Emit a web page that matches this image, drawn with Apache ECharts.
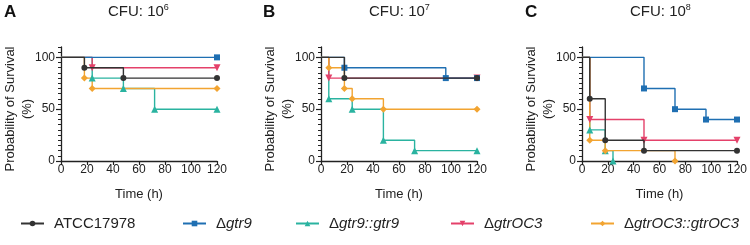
<!DOCTYPE html>
<html>
<head>
<meta charset="utf-8">
<script src="https://cdn.jsdelivr.net/npm/echarts@6/dist/echarts.min.js"></script>
<style>
  html, body { margin: 0; padding: 0; background: #fff; }
  #app { width: 750px; height: 245px; }
</style>
</head>
<body>
<div id="app"></div>
<script>
// strain names (legend order)
const strains = ["ATCC17978", "Δgtr9", "Δgtr9::gtr9", "ΔgtrOC3", "ΔgtrOC3::gtrOC3"];
const panelTitles = ["6", "7", "8"];
const panelLetters = ["A", "B", "C"];

// Kaplan-Meier steps: [time (h), survival (%)]
// panel A, CFU 10^6
const atccA = [[0, 100], [18, 90], [48, 80], [120, 80]];
const gtr9A = [[0, 100], [120, 100]];
const gtr9compA = [[0, 100], [24, 80], [48, 70], [72, 50], [120, 50]];
const oc3A = [[0, 100], [24, 90], [120, 90]];
const oc3compA = [[0, 100], [18, 80], [24, 70], [120, 70]];

// panel B, CFU 10^7
const atccB = [[0, 100], [18, 80], [120, 80]];
const gtr9B = [[0, 100], [18, 90], [96, 80], [120, 80]];
const gtr9compB = [[0, 100], [6, 60], [24, 50], [48, 20], [72, 10], [120, 10]];
const oc3B = [[0, 100], [6, 80], [120, 80]];
const oc3compB = [[0, 100], [6, 90], [18, 70], [24, 60], [48, 50], [120, 50]];

// panel C, CFU 10^8
const atccC = [[0, 100], [6, 60], [18, 20], [48, 10], [120, 10]];
const gtr9C = [[0, 100], [48, 70], [72, 50], [96, 40], [120, 40]];
const gtr9compC = [[0, 100], [6, 30], [18, 10], [24, 0]];
const oc3C = [[0, 100], [6, 40], [48, 20], [120, 20]];
const oc3compC = [[0, 100], [6, 20], [18, 10], [72, 0]];

const xTicks = [0, 20, 40, 60, 80, 100, 120];
const yLabels = [0, 50, 100];

const panels = [
  [atccA, gtr9A, gtr9compA, oc3A, oc3compA],
  [atccB, gtr9B, gtr9compB, oc3B, oc3compB],
  [atccC, gtr9C, gtr9compC, oc3C, oc3compC]
];

const colors = ["#333333", "#1f6fb2", "#2ab3a0", "#e4416a", "#f2a431"];
const symbols = ["circle", "rect", "triangle", "path://M0,0 L10,0 L5,9 Z", "diamond"];
const symbolSizes = [6, 6, 7, 7, 7];

const font = "Liberation Sans, Arial, sans-serif";
const ink = "#222";

const gridLeft = [61, 321, 582];
const gridW = 156;

const grids = [], xAxes = [], yAxes = [], series = [], titles = [], graphics = [];

panels.forEach((panel, p) => {
  grids.push({ left: gridLeft[p], width: gridW, top: 47, height: 114 });

  xAxes.push({
    type: "value", gridIndex: p, min: 0, max: 120, interval: 20,
    name: "Time (h)", nameLocation: "middle", nameGap: 27,
    nameTextStyle: { fontSize: 13, color: ink, fontFamily: font },
    axisLine: { onZero: false, lineStyle: { color: ink, width: 1.3 } },
    axisTick: { length: 4, lineStyle: { color: ink, width: 1.2 } },
    axisLabel: { margin: 3, fontSize: 12, color: ink, fontFamily: font,
      customValues: xTicks },
    splitLine: { show: false }
  });

  // main y axis with short ticks every 5
  yAxes.push({
    type: "value", gridIndex: p, min: 0, max: 110, interval: 5,
    axisLine: { show: true, onZero: false, lineStyle: { color: ink, width: 1.3 } },
    axisTick: { show: true, length: 3, lineStyle: { color: ink, width: 1 } },
    axisLabel: { margin: 6, fontSize: 12, color: ink, fontFamily: font, customValues: yLabels },
    splitLine: { show: false }
  });
  // overlay axis for the long major ticks
  yAxes.push({
    type: "value", gridIndex: p, min: 0, max: 110, position: "left", offset: 0,
    axisLine: { show: false },
    axisTick: { show: true, length: 5, customValues: yLabels, lineStyle: { color: ink, width: 1.2 } },
    axisLabel: { show: false },
    splitLine: { show: false }
  });

  panel.forEach((pts, s) => {
    series.push({
      name: strains[s],
      type: "line",
      step: "end",
      xAxisIndex: p,
      yAxisIndex: p * 2,
      symbol: symbols[s],
      symbolSize: symbolSizes[s],
      showAllSymbol: true,
      color: colors[s],
      lineStyle: { width: 1.4, color: colors[s] },
      itemStyle: { color: colors[s] },
      animation: false,
      z: 2 + (s === 0 ? 5 : s === 1 ? 4 : 1),
      data: pts.map((pt, i) => (i === 0 ? { value: pt, symbol: "none" } : pt))
    });
  });

  titles.push({
    text: panelLetters[p],
    left: [4, 263, 525][p], top: 4, padding: 0,
    textStyle: { fontSize: 17, fontWeight: "bold", color: "#111", fontFamily: font }
  });
  titles.push({
    text: "CFU: 10{sup|" + panelTitles[p] + "}",
    left: [108, 369, 630][p], top: 3, padding: 0,
    textStyle: {
      fontSize: 15, fontWeight: "normal", color: ink, fontFamily: font,
      rich: { sup: { fontSize: 9, color: ink, fontFamily: font, padding: [0, 0, 8, 0] } }
    }
  });

  const nameX = gridLeft[p] - 51;
  graphics.push({
    type: "text", x: nameX, y: 109, rotation: Math.PI / 2,
    style: { text: "Probability of Survival", fill: ink, font: "13px " + font,
      align: "center", verticalAlign: "middle" }
  });
  graphics.push({
    type: "text", x: nameX + 17, y: 109, rotation: Math.PI / 2,
    style: { text: "(%)", fill: ink, font: "13px " + font,
      align: "center", verticalAlign: "middle" }
  });
});

const legendLeft = [20, 182, 295, 450, 590];
const legends = strains.map((name, i) => ({
  data: [name],
  left: legendLeft[i],
  top: 216,
  padding: 0,
  itemWidth: 23,
  itemHeight: 7,
  selectedMode: false,
  formatter: n => (n.startsWith("Δ") ? "{d|Δ}{i|" + n.slice(1) + "}" : "{d|" + n + "}"),
  textStyle: {
    fontSize: 15, color: ink, fontFamily: font, padding: [0, 0, 0, 5],
    rich: {
      d: { fontSize: 15, color: ink, fontFamily: font },
      i: { fontSize: 15, color: ink, fontFamily: font, fontStyle: "italic" }
    }
  }
}));

const chart = echarts.init(document.getElementById("app"), null, { renderer: "canvas" });
chart.setOption({
  backgroundColor: "#fff",
  animation: false,
  title: titles,
  legend: legends,
  grid: grids,
  xAxis: xAxes,
  yAxis: yAxes,
  graphic: graphics,
  series: series
});
</script>
</body>
</html>
